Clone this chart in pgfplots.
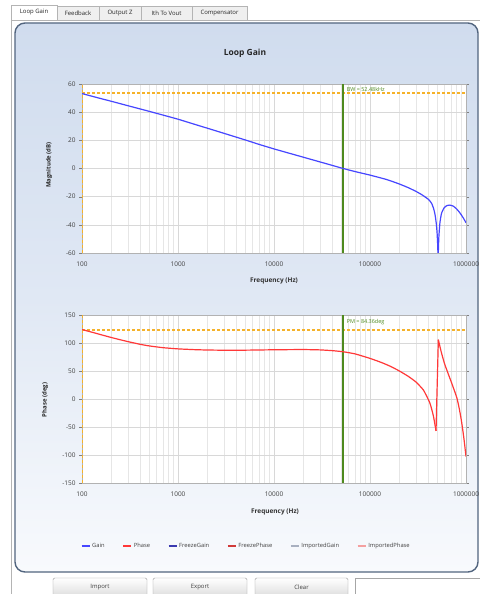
\documentclass[border=0pt]{standalone}
\usepackage{fontspec}
\setmainfont{Open Sans}
\usepackage{pgfplots}
\pgfplotsset{compat=1.18}

\definecolor{panelborder}{HTML}{52657F}
\definecolor{paneltop}{HTML}{D0DCEE}
\definecolor{panelbot}{HTML}{F8FAFD}
\definecolor{gainblue}{HTML}{4646FF}
\definecolor{phasered}{HTML}{FF3838}
\definecolor{fgain}{HTML}{3A3AB0}
\definecolor{fphase}{HTML}{D03A3A}
\definecolor{igain}{HTML}{A8B0C0}
\definecolor{iphase}{HTML}{F4A0A0}
\definecolor{bwgreen}{HTML}{4E8A1E}
\definecolor{refor}{HTML}{F5B22A}
\definecolor{gridmaj}{HTML}{D8D8D8}
\definecolor{gridmin}{HTML}{E6E6E6}
\definecolor{tabgray}{HTML}{EFEFEF}
\definecolor{tabline}{HTML}{B4B4B4}

\pgfplotstableread{
f mag
100 53.2
150 50.0
200 47.8
300 44.6
500 40.6
700 37.9
1000 35.0
1500 31.3
2000 28.7
3000 25.0
5000 20.3
7000 17.1
10000 13.9
15000 10.5
20000 8.1
30000 4.7
40000 2.3
52480 0
70000 -2.2
100000 -4.7
150000 -7.9
200000 -10.9
250000 -13.6
300000 -16.2
350000 -18.8
400000 -21.6
420000 -23.0
440000 -25.0
460000 -28.5
475000 -32.5
490000 -39.0
500000 -46.0
508000 -56.0
512000 -66.0
516000 -57.0
522000 -48.0
535000 -38.5
555000 -32.0
590000 -28.0
630000 -26.4
680000 -26.0
740000 -26.8
800000 -28.8
870000 -31.8
940000 -35.3
1000000 -38.5
}\gaintable

\pgfplotstableread{
f ph
100 124
130 118.8
160 114.5
200 110
250 105.8
300 102.5
400 97.8
500 94.8
700 91.6
1000 89.5
1500 88.1
2000 87.5
3000 87.1
5000 87.2
10000 87.9
20000 88.3
30000 87.7
40000 86.4
52480 84.4
70000 80.5
100000 72.5
130000 65.5
160000 59
200000 50.5
250000 40.5
300000 30.5
360000 16
420000 -7
457000 -30
487000 -57
}\phasetableA

\pgfplotstableread{
f ph
487000 -57
515000 106
}\phasetableB

\pgfplotstableread{
f ph
515000 106
550000 85
600000 62
700000 31
800000 3
850000 -17
900000 -41
950000 -70
1000000 -103
}\phasetableC

\pgfplotsset{
  every axis/.append style={
    scale only axis, width=384bp,
    xmin=100, xmax=1000000,
    xtick={100,1000,10000,100000,1000000},
    xticklabels={100,1000,10000,100000,1000000},
    grid=both,
    major grid style={gridmaj, line width=0.6bp},
    minor grid style={gridmin, line width=0.5bp},
    axis background/.style={fill=white},
    axis line style={black!30},
    tick align=outside,
    major tick length=3bp, minor tick length=0pt,
    xtick style={draw=none},
    ytick style={black!50},
    tick label style={font=\fontsize{6.5}{7}\selectfont, text=black!75},
    /pgf/number format/assume math mode=true,
    xticklabel style={yshift=-2bp},
  }
}

\begin{document}
\begin{tikzpicture}[x=1bp,y=1bp]
\useasboundingbox (0,0) rectangle (480,594);
\clip (0,0) rectangle (480,594);
\fill[white] (0,0) rectangle (480,594);
% outer frame
\draw[tabline, line width=0.6bp] (11,0) -- (11,574) -- (480,574);
% tabs
\begin{scope}[font=\fontsize{6}{7}\selectfont, text=black!85]
\draw[tabline, fill=tabgray, line width=0.5bp] (57,574) rectangle (99,588);
\node at (78,581) {Feedback};
\draw[tabline, fill=tabgray, line width=0.5bp] (99,574) rectangle (141,588);
\node at (120,581) {Output Z};
\draw[tabline, fill=tabgray, line width=0.5bp] (141,574) rectangle (192,588);
\node at (166.5,581) {Ith To Vout};
\draw[tabline, fill=tabgray, line width=0.5bp] (192,574) rectangle (247,588);
\node at (219.5,581) {Compensator};
\draw[tabline, fill=white, line width=0.5bp] (11,574) -- (11,589) -- (57,589) -- (57,574);
\node at (34,581.5) {Loop Gain};
\end{scope}
% panel
\shade[top color=paneltop, bottom color=panelbot, middle color=paneltop!60!panelbot, rounded corners=10bp]
  (15,22) rectangle (478,571);
\draw[panelborder, line width=1.4bp, rounded corners=10bp] (15,22) rectangle (478,571);
% buttons
\begin{scope}[font=\fontsize{6}{7}\selectfont, text=black!75]
\shade[top color=white, bottom color=black!13, draw=black!40, rounded corners=1.5bp] (53,-2) rectangle (147,16);
\node at (100,7) {Import};
\shade[top color=white, bottom color=black!13, draw=black!40, rounded corners=1.5bp] (153,-2) rectangle (247,16);
\node at (200,7) {Export};
\shade[top color=white, bottom color=black!13, draw=black!40, rounded corners=1.5bp] (255,-2) rectangle (348,16);
\node at (301.5,7) {Clear};
\draw[black!35, fill=white] (355,-2) rectangle (482,16);
\end{scope}
% title & labels
\node[font=\fontsize{8.5}{10}\selectfont\bfseries, text=black!85] at (245,541) {Loop Gain};
\node[font=\fontsize{6}{7}\selectfont\bfseries, text=black!85, rotate=90] at (49,429) {Magnitude (dB)};
\node[font=\fontsize{6.5}{7}\selectfont\bfseries, text=black!80] at (274,313) {Frequency (Hz)};
\node[font=\fontsize{6}{7}\selectfont\bfseries, text=black!85, rotate=90] at (45,194) {Phase (deg)};
\node[font=\fontsize{6.5}{7}\selectfont\bfseries, text=black!80] at (275,82) {Frequency (Hz)};

% magnitude axis
\begin{axis}[xmode=log, at={(82bp,341bp)}, anchor=south west, height=169bp,
  ymin=-60, ymax=60, ytick={-60,-40,-20,0,20,40,60}]
\addplot[refor, line width=1.6bp, dash pattern=on 3bp off 2bp, forget plot] coordinates {(100,53.5) (1000000,53.5)};
\addplot[refor, line width=2.8bp, dash pattern=on 3bp off 2bp, forget plot] coordinates {(100,-60) (100,60)};
\addplot[bwgreen, line width=1.6bp, forget plot] coordinates {(52480,-60) (52480,60)};
\addplot[gainblue, line width=1.2bp, smooth, tension=0.3, forget plot] table[x=f, y=mag] {\gaintable};
\node[anchor=west, font=\fontsize{5.5}{6}\selectfont, text=bwgreen, inner sep=0pt] at (axis cs:57000,56) {BW = 52.48kHz};
\end{axis}

% phase axis
\begin{axis}[xmode=log, at={(82bp,111bp)}, anchor=south west, height=168bp,
  ymin=-150, ymax=150, ytick={-150,-100,-50,0,50,100,150},
  legend columns=6,
  legend style={at={(0.428,-0.375)}, anchor=center, draw=none, fill=none,
    font=\fontsize{5.8}{6}\selectfont, text=black!75,
    /tikz/every even column/.append style={column sep=16bp}},
  legend image code/.code={\draw[#1, line width=1.2bp] (0bp,0bp) -- (8bp,0bp);},
  ]
\addplot[refor, line width=1.3bp, dash pattern=on 3bp off 2bp, forget plot] coordinates {(100,123.3) (1000000,123.3)};
\addplot[refor, line width=2.6bp, dash pattern=on 3bp off 2bp, forget plot] coordinates {(100,-150) (100,150)};
\addplot[bwgreen, line width=1.6bp, forget plot] coordinates {(52480,-150) (52480,150)};
\addlegendimage{gainblue}
\addlegendentry{Gain}
\addplot[phasered, line width=1.2bp, smooth, tension=0.3] table[x=f, y=ph] {\phasetableA};
\addlegendentry{Phase}
\addplot[phasered, line width=1.2bp, forget plot] table[x=f, y=ph] {\phasetableB};
\addplot[phasered, line width=1.2bp, smooth, tension=0.3, forget plot] table[x=f, y=ph] {\phasetableC};
\addlegendimage{fgain}
\addlegendentry{FreezeGain}
\addlegendimage{fphase}
\addlegendentry{FreezePhase}
\addlegendimage{igain}
\addlegendentry{ImportedGain}
\addlegendimage{iphase}
\addlegendentry{ImportedPhase}
\node[anchor=west, font=\fontsize{5.5}{6}\selectfont, text=bwgreen, inner sep=0pt] at (axis cs:57000,138) {PM = 84.36deg};
\end{axis}
\end{tikzpicture}
\end{document}
